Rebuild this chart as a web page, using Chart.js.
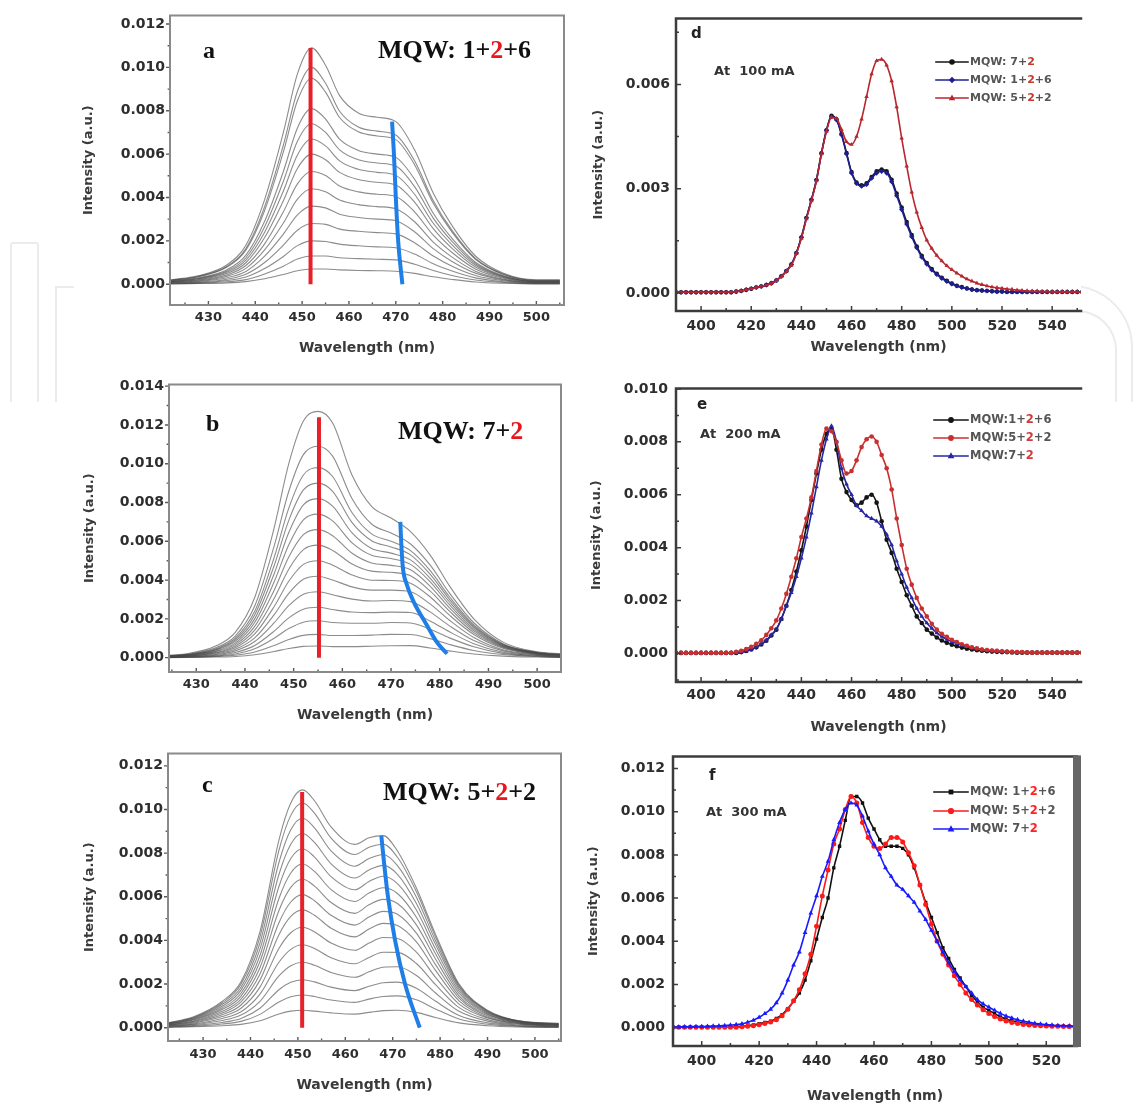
<!DOCTYPE html>
<html>
<head>
<meta charset="utf-8">
<script src="https://cdn.jsdelivr.net/npm/chart.js@4/dist/chart.umd.min.js"></script>
<style>
html,body{margin:0;padding:0;background:#fff;}
body{width:1135px;height:1107px;position:relative;overflow:hidden;}
canvas{position:absolute;z-index:2;}
.wm{position:absolute;z-index:1;border:0 solid #ebebeb;box-sizing:border-box;}
.clip{position:absolute;overflow:hidden;z-index:1;}
</style>
</head>
<body>
<!-- faint background logo outlines (decoration) -->
<div class="clip" style="left:0px;top:230px;width:80px;height:172px;">
  <div class="wm" style="left:10px;top:12px;width:29px;height:200px;border-width:2px;border-radius:3px;"></div>
  <div class="wm" style="left:55px;top:56px;width:19px;height:150px;border-left-width:2px;border-top-width:2px;"></div>
</div>
<div class="clip" style="left:1081px;top:270px;width:54px;height:132px;">
  <div class="wm" style="left:-70px;top:15px;width:122px;height:200px;border-top-width:2px;border-right-width:2px;border-top-right-radius:62px;"></div>
  <div class="wm" style="left:-60px;top:40px;width:96px;height:160px;border-top-width:2px;border-right-width:2px;border-top-right-radius:40px;"></div>
</div>
<canvas id="pa" width="492" height="353" style="left:82px;top:2px;width:492px;height:353px"></canvas>
<canvas id="pb" width="488" height="351" style="left:83px;top:371px;width:488px;height:351px"></canvas>
<canvas id="pc" width="488" height="352" style="left:83px;top:740px;width:488px;height:352px"></canvas>
<canvas id="pd" width="499" height="350" style="left:592px;top:4px;width:499px;height:350px"></canvas>
<canvas id="pe" width="501" height="362" style="left:590px;top:372px;width:501px;height:362px"></canvas>
<canvas id="pf" width="504" height="363" style="left:587px;top:740px;width:504px;height:363px"></canvas>
<script>
// ---------------- DATA ----------------
const X_TITLE = 'Wavelength (nm)';
const Y_TITLE = 'Intensity (a.u.)';
const panelLetters = ['a', 'b', 'c', 'd', 'e', 'f'];
const aTag = 'MQW: 1+2+6';
const bTag = 'MQW: 7+2';
const cTag = 'MQW: 5+2+2';
const dCurrent = 'At  100 mA';
const eCurrent = 'At  200 mA';
const fCurrent = 'At  300 mA';
const dSeriesNames = ['MQW: 7+2', 'MQW: 1+2+6', 'MQW: 5+2+2'];
const eSeriesNames = ['MQW:1+2+6', 'MQW:5+2+2', 'MQW:7+2'];
const fSeriesNames = ['MQW: 1+2+6', 'MQW: 5+2+2', 'MQW: 7+2'];

// panel a : current-dependent spectra, MQW 1+2+6
const aWavelength = [422,428,434,438,442,446,449,452,455,458,462,466,470,474,478,482,487,493,500,505];
const aIntensity = [
  [0.0002,0.0004,0.0009,0.0018,0.0039,0.007,0.0097,0.0109,0.0101,0.0087,0.0079,0.0077,0.0075,0.0062,0.0042,0.0027,0.0013,0.0005,0.0002,0.0002],
  [0.00018,0.00037,0.00083,0.00165,0.00358,0.00642,0.0089,0.01,0.00927,0.00798,0.00725,0.00706,0.00688,0.00569,0.00385,0.00248,0.00119,0.00046,0.00018,0.00018],
  [0.00017,0.00035,0.00079,0.00157,0.0034,0.0061,0.00846,0.0095,0.00886,0.00769,0.00703,0.00684,0.00667,0.00551,0.00373,0.0024,0.00115,0.00045,0.00017,0.00017],
  [0.00015,0.0003,0.00067,0.00134,0.0029,0.0052,0.00721,0.0081,0.00762,0.00669,0.00617,0.006,0.00585,0.00484,0.00327,0.00211,0.00101,0.00039,0.00015,0.00015],
  [0.00013,0.00027,0.00061,0.00122,0.00265,0.00475,0.00659,0.0074,0.007,0.0062,0.00574,0.00559,0.00545,0.0045,0.00305,0.00197,0.00094,0.00036,0.00013,0.00013],
  [0.00012,0.00025,0.00056,0.00111,0.0024,0.0043,0.00596,0.0067,0.00638,0.00569,0.0053,0.00516,0.00502,0.00415,0.00281,0.00181,0.00087,0.00034,0.00012,0.00012],
  [0.00011,0.00022,0.0005,0.00099,0.00215,0.00385,0.00534,0.006,0.00574,0.00516,0.00483,0.0047,0.00458,0.00379,0.00256,0.00165,0.00079,0.00031,0.00011,0.00011],
  [0.00009,0.00019,0.00043,0.00086,0.00186,0.00334,0.00463,0.0052,0.00501,0.00453,0.00426,0.00415,0.00405,0.00334,0.00226,0.00146,0.0007,0.00027,0.00009,0.00009],
  [0.00008,0.00016,0.00037,0.00073,0.00158,0.00282,0.00392,0.0044,0.00426,0.00388,0.00367,0.00358,0.00348,0.00288,0.00194,0.00125,0.0006,0.00023,0.00008,0.00008],
  [0.00006,0.00013,0.0003,0.00059,0.00129,0.00231,0.0032,0.0036,0.00352,0.00323,0.00308,0.003,0.00293,0.00242,0.00164,0.00105,0.00051,0.0002,0.00006,0.00006],
  [0.00005,0.0001,0.00023,0.00046,0.001,0.0018,0.00249,0.0028,0.00276,0.00254,0.00244,0.00238,0.00232,0.00191,0.0013,0.00083,0.0004,0.00016,0.00005,0.00005],
  [0.00004,0.00007,0.00017,0.00033,0.00072,0.00128,0.00178,0.002,0.00197,0.00185,0.00177,0.00172,0.00168,0.00139,0.00094,0.00061,0.00029,0.00011,0.00004,0.00004],
  [0.00002,0.00005,0.00011,0.00021,0.00047,0.00083,0.00116,0.0013,0.0013,0.00122,0.00118,0.00115,0.00112,0.00092,0.00063,0.0004,0.00019,0.00008,0.00002,0.00002],
  [0.00001,0.00003,0.00006,0.00012,0.00025,0.00045,0.00062,0.0007,0.0007,0.00066,0.00063,0.00062,0.0006,0.0005,0.00034,0.00022,0.0001,0.00004,0.00001,0.00001]
];
const aPeakLineX = [451.8, 451.8];
const aPeakLineY = [0, 0.0109];
const aShoulderLineX = [469.2, 469.6, 470.0, 470.5, 471.4];
const aShoulderLineY = [0.0075, 0.006, 0.004, 0.002, 0];

// panel b : MQW 7+2
const bWavelength = [422,428,434,438,442,446,449,452,455,458,462,466,470,474,478,482,487,493,500,505];
const bIntensity = [
  [0.0001,0.0002,0.0006,0.0013,0.0031,0.0067,0.01,0.0122,0.0127,0.0121,0.0094,0.0078,0.0072,0.0065,0.0053,0.0037,0.002,0.0008,0.0003,0.0002],
  [0.00009,0.00017,0.00051,0.00111,0.00266,0.00576,0.00858,0.01047,0.0109,0.01039,0.00819,0.00689,0.00643,0.00586,0.00478,0.00333,0.0018,0.00072,0.00027,0.00017],
  [0.00008,0.00016,0.00046,0.001,0.00239,0.00517,0.00771,0.00942,0.0098,0.00934,0.00747,0.00638,0.006,0.00552,0.0045,0.00314,0.00169,0.00068,0.00026,0.00016],
  [0.00007,0.00014,0.00042,0.00092,0.0022,0.00475,0.00708,0.00865,0.009,0.00858,0.00696,0.00603,0.00571,0.0053,0.00431,0.00301,0.00162,0.00066,0.00025,0.00014],
  [0.00007,0.00013,0.00039,0.00084,0.002,0.00433,0.00645,0.00788,0.0082,0.00781,0.00643,0.00563,0.00539,0.00504,0.0041,0.00287,0.00155,0.00062,0.00024,0.00013],
  [0.00006,0.00012,0.00035,0.00075,0.00181,0.00391,0.00582,0.00711,0.0074,0.00705,0.00592,0.00528,0.00511,0.00481,0.00392,0.00273,0.00147,0.0006,0.00023,0.00012],
  [0.00005,0.00011,0.00031,0.00067,0.00161,0.00348,0.00519,0.00634,0.0066,0.00629,0.00538,0.00488,0.00476,0.00453,0.00369,0.00257,0.00139,0.00056,0.00021,0.00011],
  [0.00005,0.00009,0.00027,0.00059,0.00142,0.00306,0.00456,0.00557,0.0058,0.00553,0.00483,0.00446,0.0044,0.00422,0.00344,0.0024,0.00129,0.00053,0.0002,0.00009],
  [0.00004,0.00008,0.00024,0.00051,0.00122,0.00264,0.00394,0.00481,0.005,0.00477,0.00426,0.00399,0.00398,0.00384,0.00314,0.00219,0.00119,0.00048,0.00018,0.00008],
  [0.00003,0.00007,0.0002,0.00043,0.00102,0.00222,0.00331,0.00404,0.0042,0.004,0.00365,0.00348,0.00348,0.0034,0.00277,0.00193,0.00104,0.00041,0.00016,0.00007],
  [0.00003,0.00005,0.00016,0.00035,0.00083,0.0018,0.00268,0.00327,0.0034,0.00324,0.00302,0.00292,0.00295,0.00289,0.00236,0.00164,0.00088,0.00035,0.00013,0.00005],
  [0.00002,0.00004,0.00012,0.00027,0.00063,0.00137,0.00205,0.0025,0.0026,0.00248,0.00235,0.00232,0.00235,0.00233,0.00189,0.00133,0.00072,0.00028,0.00011,0.00004],
  [0.00002,0.00003,0.00009,0.00019,0.00046,0.001,0.0015,0.00183,0.0019,0.00181,0.00177,0.00177,0.00181,0.00179,0.00146,0.00102,0.00056,0.00022,0.00009,0.00003],
  [0.00001,0.00002,0.00006,0.00012,0.00029,0.00063,0.00094,0.00115,0.0012,0.00114,0.00114,0.00116,0.0012,0.00119,0.00098,0.00068,0.00037,0.00016,0.00006,0.00002],
  [0,0.00001,0.00003,0.00006,0.00015,0.00032,0.00047,0.00058,0.0006,0.00057,0.00057,0.00059,0.00061,0.00062,0.0005,0.00035,0.00019,0.00008,0.00003,0.00001]
];
const bPeakLineX = [455.2, 455.2];
const bPeakLineY = [0, 0.0124];
const bShoulderLineX = [471.9, 472.1, 472.4, 473.2, 474.6, 477.3, 479.4, 481.5];
const bShoulderLineY = [0.007, 0.0059, 0.0047, 0.0038, 0.0029, 0.0017, 0.0008, 0.0002];

// panel c : MQW 5+2+2
const cWavelength = [422,428,434,438,442,446,448.5,451,453.5,457,462,465,468,471,475,479,484,490,497,505];
const cIntensity = [
  [0.0002,0.0005,0.0012,0.0021,0.0044,0.0086,0.0103,0.0109,0.0104,0.0092,0.0084,0.0087,0.0088,0.0081,0.0064,0.0043,0.002,0.0008,0.0003,0.0002],
  [0.00019,0.00047,0.00113,0.00199,0.00416,0.00813,0.00973,0.0103,0.00983,0.00869,0.00794,0.00827,0.00841,0.00781,0.00623,0.00418,0.00194,0.00077,0.0003,0.00019],
  [0.00017,0.00044,0.00106,0.00185,0.00388,0.00757,0.00907,0.0096,0.00916,0.0081,0.0074,0.00775,0.00794,0.00743,0.00598,0.00401,0.00187,0.00074,0.00029,0.00017],
  [0.00016,0.00041,0.00098,0.00172,0.0036,0.00702,0.00841,0.0089,0.00849,0.00751,0.00686,0.00723,0.00744,0.00703,0.00569,0.00383,0.00178,0.00071,0.00027,0.00016],
  [0.00015,0.00038,0.0009,0.00158,0.00331,0.00647,0.00775,0.0082,0.00782,0.00692,0.00632,0.0067,0.00694,0.0066,0.00539,0.00362,0.00168,0.00067,0.00026,0.00015],
  [0.00014,0.00035,0.00083,0.00145,0.00303,0.00592,0.00709,0.0075,0.00716,0.00633,0.00578,0.00617,0.00641,0.00615,0.00506,0.0034,0.00158,0.00063,0.00024,0.00014],
  [0.00012,0.00031,0.00075,0.00131,0.00275,0.00537,0.00643,0.0068,0.00649,0.00574,0.00524,0.00563,0.00588,0.00569,0.00471,0.00316,0.00146,0.00059,0.00022,0.00012],
  [0.00011,0.00028,0.00067,0.00118,0.00246,0.00481,0.00576,0.0061,0.00582,0.00515,0.0047,0.00507,0.00533,0.0052,0.00433,0.0029,0.00136,0.00054,0.00021,0.00011],
  [0.0001,0.00025,0.00059,0.00104,0.00218,0.00426,0.0051,0.0054,0.00515,0.00456,0.00416,0.00452,0.00478,0.00468,0.00393,0.00264,0.00123,0.00048,0.00019,0.0001],
  [0.00008,0.00021,0.00051,0.00089,0.00186,0.00363,0.00435,0.0046,0.00439,0.00388,0.00355,0.00388,0.00413,0.00409,0.00346,0.00232,0.00108,0.00044,0.00017,0.00008],
  [0.00007,0.00017,0.00042,0.00073,0.00154,0.003,0.00359,0.0038,0.00363,0.00321,0.00293,0.00322,0.00346,0.00345,0.00294,0.00198,0.00092,0.00037,0.00015,0.00007],
  [0.00005,0.00014,0.00033,0.00058,0.00121,0.00237,0.00284,0.003,0.00286,0.00253,0.00231,0.00256,0.00277,0.00279,0.00239,0.0016,0.00075,0.0003,0.00011,0.00005],
  [0.00004,0.0001,0.00024,0.00042,0.00089,0.00174,0.00208,0.0022,0.0021,0.00186,0.0017,0.0019,0.00206,0.00209,0.00181,0.00122,0.00056,0.00022,0.00008,0.00004],
  [0.00003,0.00007,0.00017,0.00029,0.00061,0.00118,0.00142,0.0015,0.00143,0.00127,0.00116,0.00131,0.00143,0.00146,0.00128,0.00086,0.0004,0.00016,0.00006,0.00003],
  [0.00001,0.00004,0.00009,0.00015,0.00032,0.00063,0.00076,0.0008,0.00076,0.00068,0.00062,0.0007,0.00078,0.0008,0.0007,0.00047,0.00022,0.00009,0.00003,0.00001]
];
const cPeakLineX = [450.9, 450.9];
const cPeakLineY = [0, 0.0108];
const cShoulderLineX = [467.6, 468.2, 469.0, 470.5, 472.6, 475.7];
const cShoulderLineY = [0.0088, 0.0075, 0.006, 0.004, 0.002, 0];

// panel d : at 100 mA
const dWavelength = [390,392,394,396,398,400,402,404,406,408,410,412,414,416,418,420,422,424,426,428,430,432,434,436,438,440,442,444,446,448,450,452,454,456,458,460,462,464,466,468,470,472,474,476,478,480,482,484,486,488,490,492,494,496,498,500,502,504,506,508,510,512,514,516,518,520,522,524,526,528,530,532,534,536,538,540,542,544,546,548,550,552];
const dMqw72 = [
  0.00002,0.00002,0.00002,0.00002,0.00002,0.00002,0.00002,0.00002,0.00002,0.00002,
  0.00002,0.00002,0.00004,0.00006,0.00009,0.00012,0.00016,0.00019,0.00023,0.00028,
  0.00036,0.00048,0.00063,0.00082,0.00115,0.0016,0.00216,0.00268,0.00325,0.00402,
  0.00468,0.0051,0.005,0.00458,0.00403,0.00348,0.00318,0.0031,0.00316,0.00334,
  0.0035,0.00355,0.0035,0.00326,0.00286,0.00246,0.00204,0.00167,0.00134,0.00107,
  0.00086,0.00069,0.00055,0.00044,0.00035,0.00027,0.00021,0.00017,0.00013,0.0001,
  0.00008,0.00007,0.00006,0.00005,0.00004,0.00004,0.00003,0.00003,0.00003,0.00003,
  0.00003,0.00003,0.00003,0.00003,0.00003,0.00003,0.00003,0.00003,0.00003,0.00003,
  0.00003,0.00003];
const dMqw126 = [
  0.00002,0.00002,0.00002,0.00002,0.00002,0.00002,0.00002,0.00002,0.00002,0.00002,
  0.00002,0.00002,0.00004,0.00006,0.00009,0.00012,0.00016,0.00019,0.00023,0.00028,
  0.00036,0.00048,0.00063,0.00082,0.00115,0.0016,0.00216,0.00268,0.00325,0.00402,
  0.00468,0.00507,0.00498,0.00455,0.004,0.00345,0.00315,0.00307,0.00312,0.0033,
  0.00345,0.0035,0.00345,0.0032,0.0028,0.0024,0.00198,0.00162,0.0013,0.00103,
  0.00083,0.00066,0.00053,0.00042,0.00033,0.00026,0.0002,0.00016,0.00013,0.0001,
  0.00008,0.00007,0.00006,0.00005,0.00004,0.00004,0.00003,0.00003,0.00003,0.00003,
  0.00003,0.00003,0.00003,0.00003,0.00003,0.00003,0.00003,0.00003,0.00003,0.00003,
  0.00003,0.00003];
const dMqw522 = [
  0.00002,0.00002,0.00002,0.00002,0.00002,0.00002,0.00002,0.00002,0.00002,0.00002,
  0.00002,0.00002,0.00004,0.00006,0.00009,0.00012,0.00016,0.00019,0.00022,0.00027,
  0.00035,0.00047,0.00062,0.0008,0.00113,0.00157,0.00213,0.00265,0.00322,0.004,
  0.00465,0.00505,0.00502,0.0047,0.00435,0.00427,0.0045,0.005,0.00565,0.0063,
  0.00668,0.00672,0.00655,0.0061,0.00535,0.00445,0.00365,0.0029,0.00232,0.00188,
  0.00152,0.00128,0.00108,0.00092,0.00078,0.00067,0.00057,0.00048,0.0004,0.00034,
  0.00028,0.00024,0.0002,0.00017,0.00015,0.00013,0.00011,0.0001,0.00008,0.00007,
  0.00006,0.00005,0.00005,0.00004,0.00004,0.00003,0.00003,0.00003,0.00003,0.00003,
  0.00003,0.00003];

// panel e : at 200 mA
const eWavelength = [390,392,394,396,398,400,402,404,406,408,410,412,414,416,418,420,422,424,426,428,430,432,434,436,438,440,442,444,446,448,450,452,454,456,458,460,462,464,466,468,470,472,474,476,478,480,482,484,486,488,490,492,494,496,498,500,502,504,506,508,510,512,514,516,518,520,522,524,526,528,530,532,534,536,538,540,542,544,546,548,550,552];
const eMqw126 = [
  0.00002,0.00002,0.00002,0.00002,0.00002,0.00002,0.00002,0.00002,0.00002,0.00002,
  0.00002,0.00002,0.00002,0.00005,0.00009,0.00015,0.00023,0.00034,0.00048,0.00068,
  0.0009,0.0013,0.0018,0.0024,0.0031,0.0039,0.0048,0.0058,0.0068,0.0077,
  0.0083,0.0085,0.0077,0.0066,0.0061,0.0058,0.0056,0.0057,0.0059,0.006,
  0.0057,0.005,0.0043,0.0038,0.0032,0.0027,0.0022,0.0018,0.0014,0.00115,
  0.0009,0.00075,0.0006,0.00049,0.0004,0.00033,0.00027,0.00022,0.00018,0.00015,
  0.00012,0.0001,0.00008,0.00007,0.00006,0.00005,0.00005,0.00004,0.00003,0.00003,
  0.00003,0.00003,0.00003,0.00003,0.00003,0.00003,0.00003,0.00003,0.00003,0.00003,
  0.00003,0.00003];
const eMqw522 = [
  0.00002,0.00002,0.00002,0.00002,0.00002,0.00002,0.00002,0.00002,0.00002,0.00002,
  0.00002,0.00002,0.00006,0.0001,0.00017,0.00025,0.00036,0.0005,0.0007,0.00095,
  0.00125,0.0017,0.00225,0.0029,0.0036,0.0044,0.0051,0.0059,0.0069,0.0079,
  0.0085,0.0084,0.008,0.0073,0.0068,0.0069,0.0073,0.0078,0.0081,0.0082,
  0.008,0.0075,0.007,0.0062,0.0051,0.0041,0.0032,0.0026,0.0021,0.0017,
  0.0014,0.00112,0.0009,0.00074,0.00063,0.00052,0.00043,0.00035,0.00029,0.00023,
  0.00019,0.00015,0.00013,0.00011,0.0001,0.00008,0.00007,0.00006,0.00005,0.00005,
  0.00004,0.00003,0.00003,0.00003,0.00003,0.00003,0.00003,0.00003,0.00003,0.00003,
  0.00003,0.00003];
const eMqw72 = [
  0.00002,0.00002,0.00002,0.00002,0.00002,0.00002,0.00002,0.00002,0.00002,0.00002,
  0.00002,0.00002,0.00002,0.00005,0.00009,0.00015,0.00024,0.00035,0.0005,0.0007,
  0.00092,0.0013,0.0018,0.0023,0.0029,0.0036,0.0044,0.0053,0.0063,0.0073,
  0.0081,0.0086,0.008,0.007,0.0064,0.006,0.0056,0.0054,0.0052,0.0051,
  0.005,0.0048,0.0045,0.0041,0.0035,0.003,0.0025,0.0021,0.0017,0.0014,
  0.00115,0.00095,0.00078,0.00064,0.00053,0.00044,0.00037,0.00031,0.00026,0.00021,
  0.00018,0.00015,0.00012,0.0001,0.00009,0.00008,0.00007,0.00006,0.00005,0.00004,
  0.00003,0.00003,0.00003,0.00003,0.00003,0.00003,0.00003,0.00003,0.00003,0.00003,
  0.00003,0.00003];

// panel f : at 300 mA
const fWavelength = [390,392,394,396,398,400,402,404,406,408,410,412,414,416,418,420,422,424,426,428,430,432,434,436,438,440,442,444,446,448,450,452,454,456,458,460,462,464,466,468,470,472,474,476,478,480,482,484,486,488,490,492,494,496,498,500,502,504,506,508,510,512,514,516,518,520,522,524,526,528,530];
const fMqw126 = [
  0.00002,0.00002,0.00002,0.00002,0.00002,0.00002,0.00002,0.00002,0.00002,0.00002,
  0.00002,0.00004,0.00006,0.00009,0.00013,0.00018,0.00024,0.0003,0.00043,0.0006,
  0.00088,0.00122,0.0016,0.0022,0.0031,0.0041,0.0051,0.006,0.0074,0.0084,
  0.0096,0.0107,0.0107,0.0104,0.0097,0.0092,0.0087,0.0084,0.0084,0.0084,
  0.0083,0.008,0.0074,0.0066,0.0058,0.0051,0.0044,0.0037,0.0032,0.0027,
  0.0023,0.0019,0.0015,0.0012,0.00095,0.0008,0.00065,0.0005,0.0004,0.00032,
  0.00026,0.00021,0.00017,0.00014,0.00012,0.0001,0.00008,0.00007,0.00006,0.00005,
  0.00005];
const fMqw522 = [
  0.00002,0.00002,0.00002,0.00002,0.00002,0.00002,0.00002,0.00002,0.00002,0.00002,
  0.00002,0.00002,0.00004,0.00006,0.00009,0.00013,0.00019,0.00026,0.00037,0.00055,
  0.00085,0.00125,0.00175,0.0025,0.0034,0.0047,0.0061,0.0073,0.0085,0.0092,
  0.0101,0.0107,0.0104,0.0095,0.0088,0.0084,0.0083,0.0085,0.0088,0.0088,
  0.0086,0.0081,0.0075,0.0066,0.0057,0.0048,0.004,0.0034,0.0029,0.0024,
  0.002,0.0016,0.0013,0.00105,0.00083,0.00066,0.00052,0.0004,0.00031,0.00024,
  0.00019,0.00015,0.00012,0.0001,0.00009,0.00008,0.00007,0.00006,0.00005,0.00005,
  0.00004];
const fMqw72 = [
  0.00003,0.00003,0.00004,0.00004,0.00005,0.00005,0.00006,0.00007,0.00008,0.0001,
  0.00012,0.00014,0.00018,0.00025,0.00034,0.00048,0.00065,0.00085,0.00115,0.0016,
  0.0022,0.0029,0.0035,0.0044,0.0053,0.0061,0.007,0.0077,0.0087,0.0095,
  0.0101,0.0104,0.0103,0.0098,0.0091,0.0085,0.008,0.0074,0.007,0.0066,
  0.0064,0.0061,0.0058,0.0054,0.005,0.0045,0.004,0.0035,0.003,0.0026,
  0.0022,0.0019,0.0016,0.0013,0.0011,0.00095,0.0008,0.00066,0.00054,0.00045,
  0.00037,0.0003,0.00025,0.0002,0.00017,0.00014,0.00012,0.0001,0.00009,0.00008,
  0.00007];

// ---------------- HELPERS ----------------
Chart.defaults.font.family = '"DejaVu Sans", sans-serif';
const SANS = '"DejaVu Sans", sans-serif';
const SERIF = '"Liberation Serif", "Times New Roman", serif';
const AXIS_TEXT = '#2e2e2e';
const pts = (xs, ys) => xs.map((x, i) => ({ x: x, y: ys[i] }));

function splitTag(label) {
  const i = label.indexOf('+');
  if (i < 0) return [label, '', ''];
  return [label.slice(0, i + 1), label.charAt(i + 1), label.slice(i + 2)];
}

function drawMarker(ctx, style, x, y, r, color) {
  ctx.save();
  ctx.fillStyle = color;
  ctx.beginPath();
  if (style === 'triangle') {
    ctx.moveTo(x, y - r * 1.1);
    ctx.lineTo(x + r, y + r * 0.7);
    ctx.lineTo(x - r, y + r * 0.7);
    ctx.closePath();
  } else if (style === 'rect') {
    ctx.rect(x - r * 0.8, y - r * 0.8, r * 1.6, r * 1.6);
  } else if (style === 'rectRot') {
    ctx.moveTo(x, y - r); ctx.lineTo(x + r, y); ctx.lineTo(x, y + r); ctx.lineTo(x - r, y); ctx.closePath();
  } else {
    ctx.arc(x, y, r, 0, Math.PI * 2);
  }
  ctx.fill();
  ctx.restore();
}

function makeDecor(o) {
  return {
    id: 'decor',
    afterDraw(chart) {
      const ctx = chart.ctx, ca = chart.chartArea;
      const xs = chart.scales.x, ys = chart.scales.y;
      const ox = o.origin[0], oy = o.origin[1];
      ctx.save();
      const tickSet = (scale) => {
        const maj = scale.ticks.map(t => t.value);
        const minr = [];
        if (maj.length > 1) {
          const step = maj[1] - maj[0];
          for (let k = -1; k < maj.length; k++) {
            const v = k < 0 ? maj[0] - step / 2 : maj[k] + step / 2;
            if (v >= scale.min && v <= scale.max) minr.push(v);
          }
        }
        return { maj: maj, minr: minr };
      };
      const X = tickSet(xs), Y = tickSet(ys);
      ctx.strokeStyle = o.tickColor;
      ctx.lineWidth = o.tickWidth;
      ctx.beginPath();
      X.maj.forEach(v => { const p = xs.getPixelForValue(v); ctx.moveTo(p, ca.bottom + o.xt.out); ctx.lineTo(p, ca.bottom - o.xt.inn); });
      X.minr.forEach(v => { const p = xs.getPixelForValue(v); ctx.moveTo(p, ca.bottom + o.xt.out * 0.6); ctx.lineTo(p, ca.bottom - o.xt.inn * 0.6); });
      Y.maj.forEach(v => { const p = ys.getPixelForValue(v); ctx.moveTo(ca.left - o.yt.out, p); ctx.lineTo(ca.left + o.yt.inn, p); });
      Y.minr.forEach(v => { const p = ys.getPixelForValue(v); ctx.moveTo(ca.left - o.yt.out * 0.6, p); ctx.lineTo(ca.left + o.yt.inn * 0.6, p); });
      ctx.stroke();
      // frame
      ctx.strokeStyle = o.frameColor;
      ctx.lineWidth = o.frameWidth;
      ctx.lineCap = 'square';
      ctx.beginPath();
      if (o.sides.indexOf('t') >= 0) { ctx.moveTo(ca.left, ca.top); ctx.lineTo(ca.right, ca.top); }
      if (o.sides.indexOf('l') >= 0) { ctx.moveTo(ca.left, ca.top); ctx.lineTo(ca.left, ca.bottom); }
      if (o.sides.indexOf('b') >= 0) { ctx.moveTo(ca.left, ca.bottom); ctx.lineTo(ca.right, ca.bottom); }
      if (o.sides.indexOf('r') >= 0) { ctx.moveTo(ca.right, ca.top); ctx.lineTo(ca.right, ca.bottom); }
      ctx.stroke();
      if (o.thickRight) {
        ctx.fillStyle = o.thickRight.color;
        ctx.fillRect(ca.right - o.thickRight.w / 2, ca.top - 1, o.thickRight.w, ca.bottom - ca.top + 2);
      }
      // texts
      ctx.textAlign = 'left';
      ctx.textBaseline = 'alphabetic';
      (o.texts || []).forEach(t => {
        ctx.font = t.font;
        let x = t.x - ox;
        const y = t.y - oy;
        const parts = Array.isArray(t.parts) ? t.parts : [t.parts];
        parts.forEach((s, i) => {
          ctx.fillStyle = (t.colors && t.colors[i]) || t.color;
          ctx.fillText(s, x, y);
          x += ctx.measureText(s).width;
        });
      });
      // legend
      if (o.legend) {
        const L = o.legend;
        L.items.forEach((dsIndex, row) => {
          const ds = chart.data.datasets[dsIndex];
          const y = L.ys[row] - oy;
          const x0 = L.x0 - ox, x1 = L.x1 - ox;
          ctx.strokeStyle = ds.borderColor;
          ctx.lineWidth = 1.6;
          ctx.beginPath(); ctx.moveTo(x0, y); ctx.lineTo(x1, y); ctx.stroke();
          drawMarker(ctx, ds.pointStyle, (x0 + x1) / 2, y, ds.pointRadius + 0.6, ds.borderColor);
          ctx.font = L.font;
          ctx.textBaseline = 'middle';
          let x = L.xt - ox;
          splitTag(ds.label).forEach((s, i) => {
            ctx.fillStyle = i === 1 ? L.accent : L.color;
            ctx.fillText(s, x, y);
            x += ctx.measureText(s).width;
          });
        });
      }
      ctx.restore();
    }
  };
}

function makeChart(id, geo, xr, yr, datasets, decor) {
  const el = document.getElementById(id);
  return new Chart(el, {
    type: 'line',
    data: { datasets: datasets },
    options: {
      responsive: false,
      animation: false,
      events: [],
      layout: { padding: { top: 12, right: geo.padR, left: 0, bottom: 0 } },
      plugins: { legend: { display: false }, tooltip: { enabled: false } },
      elements: { line: { fill: false } },
      scales: {
        x: {
          type: 'linear', min: xr.min, max: xr.max,
          afterFit: s => { s.height = geo.H; },
          grid: { display: false, drawTicks: false },
          border: { display: false },
          ticks: {
            stepSize: xr.step, includeBounds: false, autoSkip: false, maxRotation: 0, minRotation: 0,
            padding: geo.xPad, color: AXIS_TEXT,
            font: { family: SANS, size: geo.xFont, weight: 'bold' },
            callback: v => String(Math.round(v))
          },
          title: { display: true, text: X_TITLE, color: '#3a3a3a', padding: 0,
                   font: { family: SANS, size: 14, weight: 'bold', lineHeight: 1 } }
        },
        y: {
          type: 'linear', min: yr.min, max: yr.max,
          afterFit: s => { s.width = geo.W; },
          grid: { display: false, drawTicks: false },
          border: { display: false },
          ticks: {
            stepSize: yr.step, includeBounds: false, padding: geo.yPad, color: AXIS_TEXT,
            font: { family: SANS, size: 14, weight: 'bold' },
            callback: v => (Math.abs(v) < 1e-9 ? 0 : v).toFixed(3)
          },
          title: { display: true, text: Y_TITLE, color: '#3a3a3a', padding: 0,
                   font: { family: SANS, size: 13, weight: 'bold', lineHeight: 1 } }
        }
      }
    },
    plugins: [makeDecor(decor)]
  });
}

const grayDs = (xs, ys) => ({
  data: pts(xs, ys), borderColor: 'rgba(70,70,70,0.62)', borderWidth: 1.1,
  pointRadius: 0, cubicInterpolationMode: 'monotone', order: 2
});
const peakDs = (xs, ys) => ({
  data: pts(xs, ys), borderColor: '#e8202a', borderWidth: 4, pointRadius: 0,
  tension: 0, borderCapStyle: 'butt', order: 1
});
const shoulderDs = (xs, ys) => ({
  data: pts(xs, ys), borderColor: '#1f7fe6', borderWidth: 4, pointRadius: 0,
  cubicInterpolationMode: 'monotone', borderCapStyle: 'butt', order: 1
});
const seriesDs = (label, xs, ys, color, style, r, order) => ({
  label: label, data: pts(xs, ys), borderColor: color, backgroundColor: color,
  pointBackgroundColor: color, pointBorderColor: color, pointBorderWidth: 0,
  pointStyle: style, pointRadius: r, borderWidth: 1.6,
  cubicInterpolationMode: 'monotone', order: order
});

const abcTicks = { tickColor: '#5a5a5a', tickWidth: 1.4, xt: { out: 0, inn: 4 }, yt: { out: 4, inn: 0 },
                   frameColor: '#8a8a8a', frameWidth: 2, sides: 'tlbr' };
const defTicks = { tickColor: '#3c3c3c', tickWidth: 1.5, xt: { out: 0, inn: 5 }, yt: { out: 0, inn: 5 },
                   frameColor: '#3c3c3c', frameWidth: 2.5 };
const tagColors = ['#111', '#e8161d', '#111'];
const LETTER_SERIF = 'bold 24px ' + SERIF;
const TAG_FONT = 'bold 26px ' + SERIF;

// ---------------- PANEL a ----------------
makeChart('pa', { W: 88, H: 50, padR: 10, xPad: 4.5, yPad: 5, xFont: 13 },
  { min: 421.8, max: 505.9, step: 10 }, { min: -0.00096, max: 0.0124, step: 0.002 },
  aIntensity.map(ys => grayDs(aWavelength, ys))
    .concat([peakDs(aPeakLineX, aPeakLineY), shoulderDs(aShoulderLineX, aShoulderLineY)]),
  Object.assign({ origin: [82, 2], texts: [
    { parts: panelLetters[0], x: 203, y: 58, font: LETTER_SERIF, color: '#111' },
    { parts: splitTag(aTag), colors: tagColors, x: 378, y: 58, font: TAG_FONT }
  ] }, abcTicks));

// ---------------- PANEL b ----------------
makeChart('pb', { W: 86, H: 50, padR: 10, xPad: 4.5, yPad: 5, xFont: 13 },
  { min: 424.4, max: 504.9, step: 10 }, { min: -0.00074, max: 0.01409, step: 0.002 },
  bIntensity.map(ys => grayDs(bWavelength, ys))
    .concat([peakDs(bPeakLineX, bPeakLineY), shoulderDs(bShoulderLineX, bShoulderLineY)]),
  Object.assign({ origin: [83, 371], texts: [
    { parts: panelLetters[1], x: 206, y: 431, font: LETTER_SERIF, color: '#111' },
    { parts: splitTag(bTag), colors: tagColors, x: 398, y: 439, font: TAG_FONT }
  ] }, abcTicks));

// ---------------- PANEL c ----------------
makeChart('pc', { W: 85, H: 51, padR: 10, xPad: 5.5, yPad: 5, xFont: 13 },
  { min: 422.6, max: 505.5, step: 10 }, { min: -0.00061, max: 0.01257, step: 0.002 },
  cIntensity.map(ys => grayDs(cWavelength, ys))
    .concat([peakDs(cPeakLineX, cPeakLineY), shoulderDs(cShoulderLineX, cShoulderLineY)]),
  Object.assign({ origin: [83, 740], texts: [
    { parts: panelLetters[2], x: 202, y: 792, font: LETTER_SERIF, color: '#111' },
    { parts: splitTag(cTag), colors: tagColors, x: 383, y: 800, font: TAG_FONT }
  ] }, abcTicks));

// ---------------- PANEL d ----------------
makeChart('pd', { W: 84, H: 43, padR: 10, xPad: 6.5, yPad: 6, xFont: 14 },
  { min: 390, max: 551.5, step: 20 }, { min: -0.00052, max: 0.0079, step: 0.003 },
  [
    seriesDs(dSeriesNames[0], dWavelength, dMqw72, '#151515', 'circle', 2.2, 3),
    seriesDs(dSeriesNames[1], dWavelength, dMqw126, '#1e1e90', 'rectRot', 2.6, 2),
    seriesDs(dSeriesNames[2], dWavelength, dMqw522, '#b8262e', 'triangle', 2.6, 1)
  ],
  Object.assign({ origin: [592, 4], sides: 'tlb', texts: [
    { parts: panelLetters[3], x: 691, y: 38, font: 'bold 15px ' + SANS, color: '#222' },
    { parts: dCurrent, x: 714, y: 75, font: 'bold 13px ' + SANS, color: '#333' }
  ], legend: { items: [0, 1, 2], x0: 936, x1: 968, xt: 970, ys: [62, 80, 98],
               font: 'bold 11px ' + SANS, color: '#555', accent: '#c0392b' } }, defTicks));

// ---------------- PANEL e ----------------
makeChart('pe', { W: 86, H: 52, padR: 10, xPad: 4.5, yPad: 8, xFont: 14 },
  { min: 390, max: 551.5, step: 20 }, { min: -0.00108, max: 0.01002, step: 0.002 },
  [
    seriesDs(eSeriesNames[0], eWavelength, eMqw126, '#151515', 'circle', 2.3, 3),
    seriesDs(eSeriesNames[1], eWavelength, eMqw522, '#c8302f', 'circle', 2.3, 1),
    seriesDs(eSeriesNames[2], eWavelength, eMqw72, '#2626a6', 'triangle', 2.7, 2)
  ],
  Object.assign({ origin: [590, 372], sides: 'tlb', texts: [
    { parts: panelLetters[4], x: 697, y: 409, font: 'bold 15px ' + SANS, color: '#222' },
    { parts: eCurrent, x: 700, y: 438, font: 'bold 13px ' + SANS, color: '#333' }
  ], legend: { items: [0, 1, 2], x0: 934, x1: 968, xt: 970, ys: [420, 438, 456],
               font: 'bold 11.5px ' + SANS, color: '#555', accent: '#d03a3a' } }, defTicks));

// ---------------- PANEL f ----------------
makeChart('pf', { W: 86, H: 57, padR: 14, xPad: 6.5, yPad: 8, xFont: 14 },
  { min: 390, max: 530.7, step: 20 }, { min: -0.00085, max: 0.01256, step: 0.002 },
  [
    seriesDs(fSeriesNames[0], fWavelength, fMqw126, '#111111', 'rect', 2.4, 3),
    seriesDs(fSeriesNames[1], fWavelength, fMqw522, '#ff1a1a', 'circle', 2.5, 2),
    seriesDs(fSeriesNames[2], fWavelength, fMqw72, '#1a1aff', 'triangle', 2.8, 1)
  ],
  Object.assign({ origin: [587, 740], sides: 'tlb', thickRight: { color: '#666', w: 8 }, texts: [
    { parts: panelLetters[5], x: 709, y: 780, font: 'bold 15px ' + SANS, color: '#222' },
    { parts: fCurrent, x: 706, y: 816, font: 'bold 13px ' + SANS, color: '#333' }
  ], legend: { items: [0, 1, 2], x0: 934, x1: 968, xt: 970, ys: [792, 811, 829],
               font: 'bold 11.5px ' + SANS, color: '#555', accent: '#ff2020' } }, defTicks));
</script>
</body>
</html>
